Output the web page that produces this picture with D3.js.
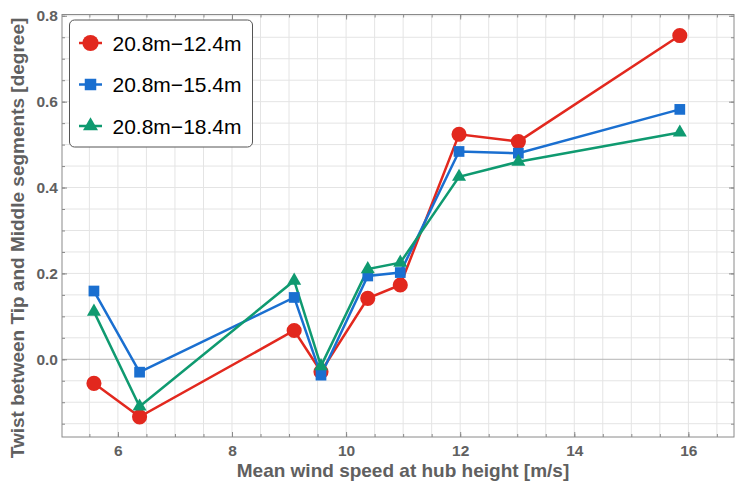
<!DOCTYPE html>
<html>
<head>
<meta charset="utf-8">
<script src="https://cdn.jsdelivr.net/npm/d3@7"></script>
<style>
body { margin: 0; background: #fff; }
svg { display: block; font-family: "Liberation Sans", Arial, Helvetica, sans-serif; }
.tick text { font-weight: bold; fill: #606060; font-size: 15.5px; }
</style>
</head>
<body>
<div id="chart"></div>
<script>
'use strict';

// wind speed (x) and twist per segment pair
var windSpeed = [5.58, 6.38, 9.09, 9.56, 10.38, 10.95, 11.98, 13.02, 15.85]
var twist124 = [-0.056, -0.134, 0.067, -0.029, 0.142, 0.173, 0.524, 0.507, 0.754]
var twist154 = [0.159, -0.030, 0.144, -0.037, 0.194, 0.202, 0.484, 0.480, 0.582]
var twist184 = [0.111, -0.110, 0.183, -0.016, 0.210, 0.225, 0.425, 0.460, 0.528]
var seriesNames = ["20.8m\u221212.4m", "20.8m\u221215.4m", "20.8m\u221218.4m"]
var xTicks = [6, 8, 10, 12, 14, 16]
var yTicks = [0.0, 0.2, 0.4, 0.6, 0.8]

var W = 735, H = 485
var pLeft = 62, pRight = 734, pTop = 14.5, pBottom = 437

var colors = ["#e2281e", "#1a6fd0", "#0f9a70"]
var shapes = [d3.symbolCircle, d3.symbolSquare, d3.symbolTriangle]
var sizes = [180, 115, 85]

var series = [twist124, twist154, twist184].map(function(vals, i){
	return {
		name: seriesNames[i],
		values: vals.map(function(v, j){ return {x: windSpeed[j], y: v} })
	}
})

var x = d3.scaleLinear().domain([5.02, 16.8]).range([pLeft, pRight])
var y = d3.scaleLinear().domain([-0.181, 0.803]).range([pBottom, pTop])

var svg = d3.select("#chart").append("svg").attr("width", W).attr("height", H)

// grid, every half unit / every 0.05
var xMinor = d3.range(5.5, 16.75, 0.5)
var yMinor = d3.range(-0.15, 0.801, 0.05).map(function(d){ return Math.round(d*100)/100 })

svg.append("g").selectAll("line").data(xMinor).enter().append("line")
	.attr("x1", function(d){ return x(d) }).attr("x2", function(d){ return x(d) })
	.attr("y1", pTop).attr("y2", pBottom)
	.attr("stroke", "#e4e4e4").attr("stroke-width", 1)
svg.append("g").selectAll("line").data(yMinor).enter().append("line")
	.attr("x1", pLeft).attr("x2", pRight)
	.attr("y1", function(d){ return y(d) }).attr("y2", function(d){ return y(d) })
	.attr("stroke", function(d){ return d == 0 ? "#b4b4b4" : "#e4e4e4" }).attr("stroke-width", 1)

// frame
svg.append("rect").attr("x", pLeft).attr("y", pTop).attr("width", pRight-pLeft).attr("height", pBottom-pTop)
	.attr("fill", "none").attr("stroke", "#8a8a8a").attr("stroke-width", 1)

function frameAxis(axis, tx, ty, vals, size, labels){
	var g = svg.append("g").attr("transform", "translate(" + tx + "," + ty + ")")
		.call(axis.tickValues(vals).tickSizeInner(size).tickSizeOuter(0).tickPadding(8)
			.tickFormat(labels ? d3.format(labels) : function(){ return "" }))
	g.select(".domain").remove()
	g.selectAll(".tick line").attr("stroke", "#8a8a8a")
	return g
}

frameAxis(d3.axisBottom(x), 0, pBottom, xMinor, -3, null)
frameAxis(d3.axisBottom(x), 0, pBottom, xTicks, -5, "d")
frameAxis(d3.axisTop(x), 0, pTop, xMinor, -3, null)
frameAxis(d3.axisTop(x), 0, pTop, xTicks, -5, null)
frameAxis(d3.axisLeft(y), pLeft, 0, yMinor, -3, null)
frameAxis(d3.axisLeft(y), pLeft, 0, yTicks, -5, ".1f").selectAll("text").attr("dx", 4)
frameAxis(d3.axisRight(y), pRight, 0, yMinor, -3, null)
frameAxis(d3.axisRight(y), pRight, 0, yTicks, -5, null)

// axis titles
svg.append("text").text("Mean wind speed at hub height [m/s]")
	.attr("x", (pLeft+pRight)/2 + 5).attr("y", 477)
	.attr("text-anchor", "middle").style("font-size", "19px").style("font-weight", "bold").attr("fill", "#606060")
svg.append("text").text("Twist between Tip and Middle segments [degree]")
	.attr("transform", "translate(24,238) rotate(-90)")
	.attr("text-anchor", "middle").style("font-size", "19px").style("font-weight", "bold").attr("fill", "#606060")

// lines and markers
var line = d3.line().x(function(d){ return x(d.x) }).y(function(d){ return y(d.y) })

series.forEach(function(s, i){
	svg.append("path").datum(s.values).attr("d", line)
		.attr("fill", "none").attr("stroke", colors[i]).attr("stroke-width", 2.5)
})
series.forEach(function(s, i){
	svg.append("g").selectAll("path").data(s.values).enter().append("path")
		.attr("d", d3.symbol().type(shapes[i]).size(sizes[i]))
		.attr("transform", function(d){ return "translate(" + x(d.x) + "," + y(d.y) + ")" })
		.attr("fill", colors[i])
})

// legend
var lg = svg.append("g")
lg.append("rect").attr("x", 69.5).attr("y", 20).attr("width", 183).attr("height", 127)
	.attr("rx", 5).attr("fill", "#fff").attr("stroke", "#555").attr("stroke-width", 1)
var rowY = [43, 84.5, 126]
seriesNames.forEach(function(name, i){
	lg.append("line").attr("x1", 79).attr("x2", 102).attr("y1", rowY[i]).attr("y2", rowY[i])
		.attr("stroke", colors[i]).attr("stroke-width", 2.5)
	lg.append("path").attr("d", d3.symbol().type(shapes[i]).size(sizes[i]*1.15))
		.attr("transform", "translate(90.5," + rowY[i] + ")").attr("fill", colors[i])
	lg.append("text").text(name).attr("x", 112.5).attr("y", rowY[i] + 7.5)
		.style("font-size", "21px").attr("fill", "#000")
})
</script>
</body>
</html>
